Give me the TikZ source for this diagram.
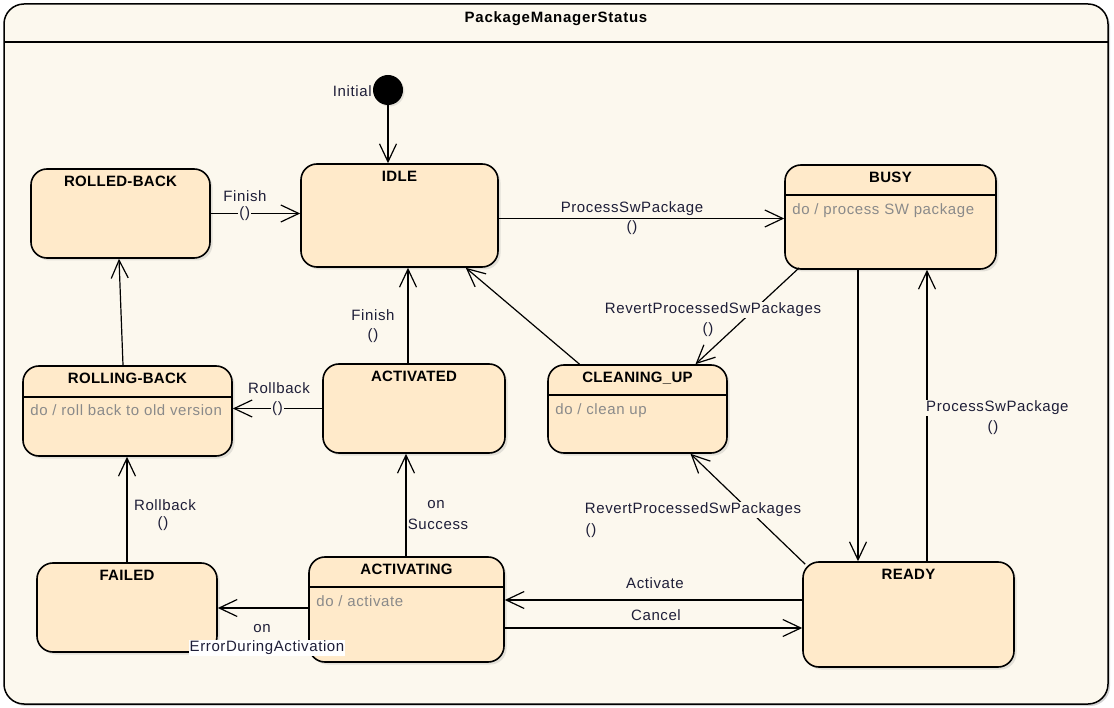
\documentclass[tikz,border=0pt]{standalone}
\usepackage{fontspec}
\setmainfont{Liberation Sans}
\newfontfamily\lblfont[LetterSpace=4]{Liberation Sans}
\newfontfamily\ttlfont[LetterSpace=2]{Liberation Sans}
\newfontfamily\pkgfont[LetterSpace=5]{Liberation Sans}
\usetikzlibrary{arrows.meta, positioning, calc, shadows}
\definecolor{bgCream}{HTML}{FCF8EE}
\definecolor{stFill}{HTML}{FFEACA}
\definecolor{doGray}{HTML}{8A8A8A}
\definecolor{lblInk}{HTML}{1E1E38}

\begin{document}
\begin{tikzpicture}[
x=1pt, y=-1pt,
frame/.style={draw, line width=1.5pt, fill=bgCream, rounded corners=20pt, inner sep=0pt, minimum width=1104pt, minimum height=700pt, drop shadow={shadow xshift=2pt, shadow yshift=-2pt, opacity=.35}},
state/.style={draw, line width=1.6pt, fill=stFill, rounded corners=16pt, inner sep=0pt, drop shadow={shadow xshift=2.5pt, shadow yshift=-2.5pt, opacity=.2}},
compart/.style={path picture={\draw[line width=1.2pt] ([yshift=-#1]path picture bounding box.north west) -- ([yshift=-#1]path picture bounding box.north east);}},
sttitle/.style={anchor=north, yshift=-7.6pt, inner sep=0pt, font=\fontsize{15}{18}\selectfont\ttlfont\bfseries},
dotxt/.style={anchor=base west, xshift=8pt, yshift=-50pt, inner sep=0pt, text=doGray, font=\fontsize{15}{18}\selectfont\lblfont},
lbl/.style={inner sep=1pt, text=lblInk, font=\fontsize{15}{19}\selectfont\lblfont},
paren/.style={lbl, fill=bgCream},
trans/.style={-{Straight Barb[length=18pt, width=17pt]}, line width=1.2pt}
]
\useasboundingbox (0,0) rectangle (1114,708);

% outer state machine frame
\node[frame, compart=38pt, label={[sttitle, yshift=-1pt, font=\fontsize{15}{18}\selectfont\pkgfont\bfseries]north:PackageManagerStatus}] (pkg) at (556,354) {};

% states
\node[state, minimum width=179pt, minimum height=89pt, label={[sttitle]north:ROLLED-BACK}] (rolledback) at (120.5,213.5) {};
\node[state, minimum width=197pt, minimum height=103pt, label={[sttitle]north:IDLE}] (idle) at (399.5,215.5) {};
\node[state, compart=30pt, minimum width=211pt, minimum height=104pt, label={[sttitle]north:BUSY}, label={[dotxt]north west:do / process SW package}] (busy) at (890.5,217) {};
\node[state, compart=31pt, minimum width=209pt, minimum height=90pt, label={[sttitle]north:ROLLING-BACK}, label={[dotxt]north west:do / roll back to old version}] (rollingback) at (127.5,411) {};
\node[state, minimum width=182pt, minimum height=89pt, label={[sttitle]north:ACTIVATED}] (activated) at (414,408.5) {};
\node[state, compart=30pt, minimum width=179pt, minimum height=88pt, label={[sttitle]north:CLEANING\_UP}, label={[dotxt]north west:do / clean up}] (cleaningup) at (637.5,409) {};
\node[state, minimum width=180pt, minimum height=89pt, label={[sttitle]north:FAILED}] (failed) at (127,607.5) {};
\node[state, compart=30pt, minimum width=195pt, minimum height=105pt, label={[sttitle]north:ACTIVATING}, label={[dotxt]north west:do / activate}] (activating) at (406.5,609.5) {};
\node[state, minimum width=211pt, minimum height=105pt, label={[sttitle]north:READY}] (ready) at (908.5,614.5) {};

% initial pseudo state
\node[circle, fill=black, minimum size=30pt, inner sep=0pt, drop shadow={shadow xshift=1.5pt, shadow yshift=-1.5pt, opacity=.2}] (init) at (388,90) {};
\node[lbl, left=0pt of init, yshift=-1pt] (initlbl) {Initial};

% transitions
\draw[trans] (init) -- (idle.north -| init);
\draw[trans] (rolledback) -- node[paren, pos=.38] (pfin1) {()} (rolledback -| idle.west);
\draw[trans] ([yshift=-3pt]idle.east) -- ([yshift=-3pt]idle.east -| busy.west);
\draw[trans] ([xshift=15pt, yshift=2pt]busy.south west) -- ([xshift=58pt]cleaningup.north);
\draw[trans] ([xshift=-32.5pt]busy.south) -- ([xshift=-32.5pt]busy.south |- ready.north);
\draw[trans] ([xshift=18.5pt]ready.north) -- ([xshift=18.5pt]ready.north |- busy.south);
\draw[trans] ([xshift=-58pt]cleaningup.north) -- ([xshift=-33pt]idle.south east);
\draw[trans] ([xshift=3pt, yshift=-3pt]ready.north west) -- ([xshift=53pt]cleaningup.south);
\draw[trans] ([xshift=-6pt]activated.north) -- ([xshift=-6pt]activated.north |- idle.south);
\draw[trans] (activated) -- node[paren, pos=.5] (prb1) {()} (activated -| rollingback.east);
\draw[trans] ([xshift=-4.5pt]rollingback.north) -- ([xshift=-1.5pt]rolledback.south);
\draw[trans] (failed.north) -- (failed.north |- rollingback.south);
\draw[trans] ([xshift=-0.5pt]activating.north) -- ([xshift=-0.5pt]activating.north |- activated.south);
\draw[trans] ([yshift=1.5pt]activating.west) -- ([yshift=1.5pt]activating.west -| failed.east);
\draw[trans] ([yshift=14.5pt]ready.west) -- ([yshift=14.5pt]ready.west -| activating.east);
\draw[trans] ([yshift=-18.5pt]activating.east) -- ([yshift=-18.5pt]activating.east -| ready.west);

% transition labels
\node[lbl] (lfin1) at (245,196) {Finish};
\node[lbl, align=center] (lproc1) at (632,218.5) {ProcessSwPackage\\()};
\node[lbl, fill=bgCream] (lrev1) at (713,310) {RevertProcessedSwPackages};
\node[lbl] (lrev1p) at (708,330) {()};
\node[lbl, fill=bgCream, anchor=west] (lproc2) at (925,408) {ProcessSwPackage};
\node[lbl] (lproc2p) at (993,428) {()};
\node[lbl, fill=bgCream] (lrev2) at (693,510) {RevertProcessedSwPackages};
\node[lbl] (lrev2p) at (591,531) {()};
\node[lbl] (lfin2) at (373,315) {Finish};
\node[lbl] (lfin2p) at (373,336) {()};
\node[lbl] (lrb1) at (279,388) {Rollback};
\node[lbl] (lrb2) at (165,505) {Rollback};
\node[lbl] (lrb2p) at (163,524) {()};
\node[lbl] (lon1) at (436,505) {on};
\node[lbl] (lsucc) at (438,524) {Success};
\node[lbl] (lon2) at (262,629) {on};
\node[lbl, fill=white] (lerr) at (267,648) {ErrorDuringActivation};
\node[lbl] (lact) at (655,583) {Activate};
\node[lbl] (lcan) at (656,615) {Cancel};
\end{tikzpicture}
\end{document}
